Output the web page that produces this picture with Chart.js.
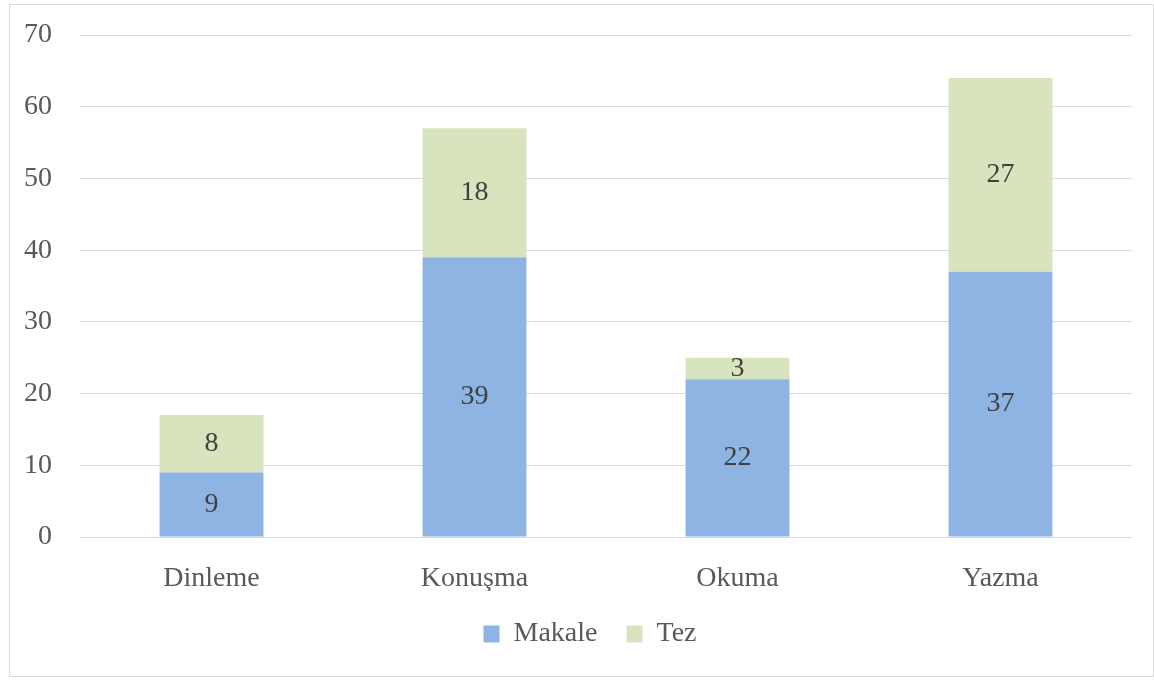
<!DOCTYPE html>
<html>
<head>
<meta charset="utf-8">
<script src="https://cdn.jsdelivr.net/npm/chart.js@4/dist/chart.umd.min.js"></script>
<style>
  html, body { margin: 0; padding: 0; background: #fff; }
</style>
</head>
<body>
<canvas id="beceriChart" width="1154" height="680"></canvas>
<script>
// Veriler
const kategoriler = ["Dinleme", "Konuşma", "Okuma", "Yazma"];
const makale = [9, 39, 22, 37];
const tez = [8, 18, 3, 27];
const yTickleri = [0, 10, 20, 30, 40, 50, 60, 70];

const yazi = "'Liberation Serif', 'Times New Roman', serif";

// Çerçeve
const cerceve = {
    id: "cerceve",
    beforeDraw(chart) {
        const c = chart.ctx;
        c.save();
        c.fillStyle = "#fff";
        c.fillRect(0, 0, chart.width, chart.height);
        c.strokeStyle = "#D9D9D9";
        c.lineWidth = 1;
        c.strokeRect(9.5, 4.5, 1144, 672);
        c.restore();
    },
    afterLayout(chart) {
        // lejant biraz sağda duruyor
        chart.legend.left += 24;
        chart.legend.right += 24;
    }
};

// Çubuk içi değerler
const degerEtiketleri = {
    id: "degerEtiketleri",
    afterDatasetsDraw(chart) {
        const c = chart.ctx;
        c.save();
        c.font = "28px " + yazi;
        c.fillStyle = "#404040";
        c.textAlign = "center";
        c.textBaseline = "middle";
        chart.data.datasets.forEach((ds, i) => {
            const meta = chart.getDatasetMeta(i);
            meta.data.forEach((bar, j) => {
                c.fillText(String(ds.data[j]), bar.x, (bar.y + bar.base) / 2);
            });
        });
        c.restore();
    }
};

const ctx = document.getElementById("beceriChart").getContext("2d");
new Chart(ctx, {
    type: "bar",
    data: {
        labels: kategoriler,
        datasets: [
            { label: "Makale", data: makale, backgroundColor: "#8EB4E3", borderWidth: 0 },
            { label: "Tez", data: tez, backgroundColor: "#D7E4BD", borderWidth: 0 }
        ]
    },
    options: {
        responsive: false,
        animation: false,
        layout: { padding: { top: 35, right: 22, left: 0, bottom: 22 } },
        datasets: { bar: { categoryPercentage: 1, barPercentage: 0.395 } },
        plugins: {
            legend: {
                position: "bottom",
                labels: {
                    boxWidth: 16,
                    boxHeight: 17,
                    padding: 29,
                    color: "#595959",
                    font: { family: yazi, size: 28 }
                }
            },
            tooltip: { enabled: false }
        },
        scales: {
            x: {
                stacked: true,
                grid: { display: false },
                border: { display: false },
                ticks: { color: "#595959", padding: 17, font: { family: yazi, size: 28 } },
                afterFit(scale) { scale.height = 54; }
            },
            y: {
                stacked: true,
                min: 0,
                max: 70,
                afterBuildTicks(scale) { scale.ticks = yTickleri.map(v => ({ value: v })); },
                grid: { color: "#D9D9D9", lineWidth: 1, drawTicks: false },
                border: { display: false },
                ticks: { color: "#595959", padding: 28, font: { family: yazi, size: 28 } },
                afterFit(scale) {
                    scale.width = 80;
                    scale.paddingTop = 0;
                    scale.paddingBottom = 0;
                }
            }
        }
    },
    plugins: [cerceve, degerEtiketleri]
});
</script>
</body>
</html>
